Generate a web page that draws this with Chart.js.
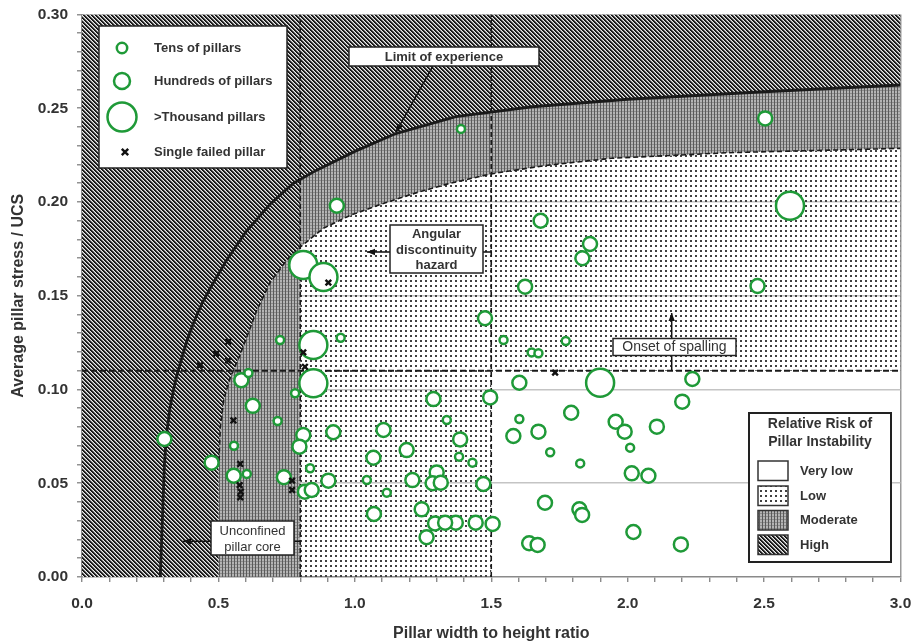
<!DOCTYPE html>
<html>
<head>
<meta charset="utf-8">
<script src="https://cdn.jsdelivr.net/npm/chart.js@4.4.1/dist/chart.umd.min.js"></script>
<style>
html,body{margin:0;padding:0;background:#ffffff;}
#wrap{width:913px;height:644px;}
</style>
</head>
<body>
<div id="wrap"><canvas id="c" width="913" height="644"></canvas></div>
<script>
// ---------------- DATA ----------------
const xTickLabels = ['0.0','0.5','1.0','1.5','2.0','2.5','3.0'];
const yTickLabels = ['0.00','0.05','0.10','0.15','0.20','0.25','0.30'];

// Case histories: width/height ratio, stress/UCS, size class (1 = tens, 2 = hundreds, 3 = >thousand pillars)
const bubbleX = [1.389,2.504,2.595,0.934,0.811,0.885,1.681,1.862,1.834,1.624,2.476,1.477,1.545,1.773,1.648,1.673,
  1.603,1.899,2.237,1.496,2.200,1.793,1.603,1.956,1.989,2.107,1.581,1.673,2.009,1.386,1.382,1.431,1.716,1.826,
  2.015,2.076,1.471,1.697,1.823,1.833,1.370,1.443,1.505,2.021,1.639,1.670,2.195,0.302,0.475,0.556,0.604,0.557,
  0.584,0.610,0.626,0.717,0.726,0.781,0.848,0.848,0.948,0.811,0.797,0.836,0.740,0.817,0.842,0.903,0.921,1.105,
  1.068,1.044,1.117,1.070,1.190,1.211,1.245,1.263,1.288,1.337,1.300,1.285,1.315,1.294,1.331];
const bubbleY = [0.2390,0.2446,0.1980,0.1980,0.1664,0.1600,0.1900,0.1776,0.1700,0.1548,0.1552,0.1380,0.1264,0.1259,0.1198,0.1193,
  0.1036,0.1036,0.1056,0.0958,0.0935,0.0876,0.0843,0.0828,0.0775,0.0802,0.0752,0.0775,0.0690,0.0734,0.0642,0.0610,0.0665,0.0606,
  0.0553,0.0540,0.0496,0.0396,0.0361,0.0331,0.0290,0.0290,0.0283,0.0240,0.0180,0.0171,0.0174,0.0736,0.0610,0.0540,0.0550,0.0700,
  0.1050,0.1088,0.0913,0.0832,0.1264,0.0980,0.1237,0.1033,0.1276,0.0757,0.0695,0.0580,0.0532,0.0455,0.0464,0.0514,0.0772,0.0784,
  0.0636,0.0517,0.0450,0.0336,0.0677,0.0517,0.0361,0.0212,0.0949,0.0837,0.0558,0.0500,0.0503,0.0286,0.0290];
const bubbleClass = [1,2,3,2,3,3,2,2,2,2,2,2,1,1,1,1,
  2,3,2,2,2,2,1,2,2,2,2,2,1,2,1,1,1,1,
  2,2,2,2,2,2,2,2,2,2,2,2,2,2,2,2,1,1,
  2,1,2,1,1,1,3,3,1,2,2,1,2,2,2,2,2,2,
  2,1,1,2,2,2,2,2,2,1,2,2,2,2,2];

// Single failed pillars
const failedX = [0.433,0.491,0.536,0.536,0.555,0.580,0.578,0.582,0.580,0.770,0.770,0.811,0.817,0.903,1.734];
const failedY = [0.1130,0.1190,0.1255,0.1155,0.0835,0.0603,0.0490,0.0455,0.0425,0.0514,0.0464,0.1198,0.1121,0.1570,0.1090];

// Limit of experience (solid curve)
const limitX = [0.287,0.292,0.297,0.302,0.310,0.322,0.340,0.360,0.385,0.410,0.440,0.470,0.530,0.600,0.690,0.775,0.860,1.000,1.150,1.370,1.650,2.000,2.500,3.000];
const limitY = [0.000,0.020,0.040,0.060,0.076,0.090,0.103,0.114,0.126,0.136,0.146,0.154,0.169,0.184,0.199,0.210,0.217,0.227,0.2365,0.2455,0.2508,0.2548,0.2588,0.2624];

// Risk boundary (dashed curve)
const riskX = [0.500,0.502,0.507,0.520,0.545,0.575,0.604,0.640,0.689,0.750,0.800,0.885,0.985,1.100,1.227,1.350,1.500,1.700,1.940,2.370,3.000];
const riskY = [0.000,0.062,0.080,0.095,0.107,0.117,0.128,0.142,0.157,0.169,0.176,0.186,0.193,0.199,0.205,0.210,0.215,0.2195,0.2233,0.2263,0.2286];

const spallingLevel = 0.11;        // onset of spalling
const hazardBounds = [0.8, 1.5];   // angular discontinuity hazard
const coreBound = 0.5;             // unconfined pillar core
const xRange = [0, 3.0];
const yRange = [0, 0.30];

// ---------------- STYLE ----------------
const FONT = '"Liberation Sans", Arial, sans-serif';
const GREEN = '#1f9a38';
const TXT = '#333333';
const canvas = document.getElementById('c');
const mainCtx = canvas.getContext('2d');

function makePattern(w, h, fn) {
  const c = document.createElement('canvas');
  c.width = w; c.height = h;
  const g = c.getContext('2d');
  const img = g.createImageData(w, h);
  for (let yy = 0; yy < h; yy++) {
    for (let xx = 0; xx < w; xx++) {
      const p = fn(xx, yy);
      const i = (yy * w + xx) * 4;
      img.data[i] = p[0]; img.data[i+1] = p[1]; img.data[i+2] = p[2]; img.data[i+3] = p[3];
    }
  }
  g.putImageData(img, 0, 0);
  return mainCtx.createPattern(c, 'repeat');
}
const highPat = makePattern(4, 4, (x, y) => {
  const d = ((x - y) % 4 + 4) % 4;
  const v = [20, 35, 150, 235][d];
  return [v, v, v, 255];
});
const modPat = makePattern(3, 3, (x, y) => {
  let v = 180;
  if (y === 0) v = 140;
  if (x === 0) v = 90;
  return [v, v, v, 255];
});
const lowPat = makePattern(5, 5, (x, y) => (x < 2 && y < 2) ? [65, 65, 65, 255] : [255, 255, 255, 0]);
const lowPatWhite = makePattern(5, 5, (x, y) => (x < 2 && y < 2) ? [65, 65, 65, 255] : [255, 255, 255, 255]);

const radiusFor = {1: 4, 2: 7, 3: 14};

// ---------------- REGIONS (polygons built from the curves) ----------------
function pts(xs, ys) { return xs.map((x, i) => ({x: x, y: ys[i]})); }
const limitPts = pts(limitX, limitY);
const riskPts = pts(riskX, riskY);
const h0 = hazardBounds[0], h1 = hazardBounds[1];
function interp(xs, ys, x) {
  for (let i = 1; i < xs.length; i++) {
    if (x <= xs[i]) { const t = (x - xs[i-1]) / (xs[i] - xs[i-1]); return ys[i-1] + t * (ys[i] - ys[i-1]); }
  }
  return ys[ys.length - 1];
}
const limitAtH0 = interp(limitX, limitY, h0);
const riskAtH0 = interp(riskX, riskY, h0);

// High risk
const highPoly = [{x: xRange[0], y: yRange[0]}, {x: coreBound, y: yRange[0]}]
  .concat(riskPts.filter(p => p.x >= coreBound && p.x < h0))
  .concat([{x: h0, y: riskAtH0}, {x: h0, y: limitAtH0}])
  .concat(limitPts.filter(p => p.x > h0))
  .concat([{x: xRange[1], y: yRange[1]}, {x: xRange[0], y: yRange[1]}]);
// Moderate risk
const modPoly = [{x: coreBound, y: yRange[0]}]
  .concat(riskPts.filter(p => p.x >= coreBound))
  .concat(limitPts.filter(p => p.x > h0).reverse())
  .concat([{x: h0, y: limitAtH0}, {x: h0, y: yRange[0]}]);
// Low risk
const lowPoly = [{x: h0, y: yRange[0]}, {x: h0, y: riskAtH0}]
  .concat(riskPts.filter(p => p.x > h0))
  .concat([{x: xRange[1], y: spallingLevel}, {x: h1, y: spallingLevel}, {x: h1, y: yRange[0]}]);

function regionDs(poly, pat, order) {
  return {type: 'line', data: poly, fill: 'shape', backgroundColor: pat, borderColor: 'rgba(0,0,0,0)',
    borderWidth: 0, pointRadius: 0, tension: 0, order: order};
}
function lineDs(data, width, dash, order) {
  return {type: 'line', data: data, fill: false, borderColor: '#1a1a1a', borderWidth: width, borderDash: dash,
    pointRadius: 0, tension: 0, order: order};
}

const datasets = [
  regionDs(highPoly, highPat, 20),
  regionDs(modPoly, modPat, 21),
  regionDs(lowPoly, lowPat, 22),
  lineDs(limitPts, 2.8, [], 6),
  lineDs(riskPts.slice(1), 1.6, [5, 3], 7),
  lineDs([{x: h0, y: yRange[0]}, {x: h0, y: yRange[1]}], 1.6, [5, 3], 8),
  lineDs([{x: h1, y: yRange[0]}, {x: h1, y: yRange[1]}], 1.6, [5, 3], 8),
  lineDs([{x: xRange[0], y: spallingLevel}, {x: xRange[1], y: spallingLevel}], 1.8, [6, 3], 8),
  {type: 'bubble', data: bubbleX.map((x, i) => ({x: x, y: bubbleY[i], r: radiusFor[bubbleClass[i]]})),
    backgroundColor: '#ffffff', borderColor: GREEN, borderWidth: 2.5, order: 2},
  {type: 'scatter', data: pts(failedX, failedY), pointStyle: 'crossRot', pointRadius: 4,
    borderColor: '#111111', borderWidth: 2.4, backgroundColor: '#111111', order: 1}
];

// ---------------- ANNOTATIONS ----------------
function f(w, s) { return w + ' ' + s + 'px ' + FONT; }
const notes = {
  id: 'notes',
  afterDatasetsDraw(chart) {
    const ctx = chart.ctx;
    ctx.save();
    function box(x0, y0, x1, y1, lw) {
      ctx.fillStyle = '#fff'; ctx.fillRect(x0, y0, x1 - x0, y1 - y0);
      ctx.lineWidth = lw || 1.5; ctx.strokeStyle = '#222'; ctx.setLineDash([]);
      ctx.strokeRect(x0, y0, x1 - x0, y1 - y0);
    }
    function text(t, x, y, font, align) {
      ctx.font = font; ctx.fillStyle = TXT; ctx.textAlign = align || 'center'; ctx.textBaseline = 'middle';
      ctx.fillText(t, x, y);
    }
    function seg(x0, y0, x1, y1, lw) {
      ctx.strokeStyle = '#111'; ctx.lineWidth = lw || 1.5; ctx.setLineDash([]);
      ctx.beginPath(); ctx.moveTo(x0, y0); ctx.lineTo(x1, y1); ctx.stroke();
    }
    function arrow(x0, y0, x1, y1) {
      seg(x0, y0, x1, y1, 1.5);
      const a = Math.atan2(y1 - y0, x1 - x0), L = 8, W = 3.2;
      ctx.fillStyle = '#111'; ctx.beginPath();
      ctx.moveTo(x1, y1);
      ctx.lineTo(x1 - L * Math.cos(a) + W * Math.sin(a), y1 - L * Math.sin(a) - W * Math.cos(a));
      ctx.lineTo(x1 - L * Math.cos(a) - W * Math.sin(a), y1 - L * Math.sin(a) + W * Math.cos(a));
      ctx.closePath(); ctx.fill();
    }
    function circ(x, y, r) {
      ctx.beginPath(); ctx.arc(x, y, r, 0, Math.PI * 2);
      ctx.fillStyle = '#fff'; ctx.fill(); ctx.lineWidth = 2.5; ctx.strokeStyle = GREEN; ctx.stroke();
    }
    function cross(x, y, s) {
      ctx.strokeStyle = '#111'; ctx.lineWidth = 2.4; ctx.setLineDash([]);
      ctx.beginPath(); ctx.moveTo(x - s, y - s); ctx.lineTo(x + s, y + s);
      ctx.moveTo(x + s, y - s); ctx.lineTo(x - s, y + s); ctx.stroke();
    }

    // Symbol legend
    box(99, 26, 287, 168, 1.5);
    circ(122, 48, 5.2); text('Tens of pillars', 154, 48, f('bold', 13), 'left');
    circ(122, 81, 8); text('Hundreds of pillars', 154, 81, f('bold', 13), 'left');
    circ(122, 117, 14.5); text('>Thousand pillars', 154, 117, f('bold', 13), 'left');
    cross(125, 152, 3.2); text('Single failed pillar', 154, 152, f('bold', 13), 'left');

    // Limit of experience
    arrow(433, 66, 396, 132);
    box(349, 47, 539, 66, 1.5);
    text('Limit of experience', 444, 57, f('bold', 13));

    // Angular discontinuity hazard
    arrow(390, 252, 367, 252);
    seg(483, 252, 492, 252, 1.5);
    box(390, 225, 483, 273, 1.5);
    text('Angular', 436.5, 234, f('bold', 13));
    text('discontinuity', 436.5, 250, f('bold', 13));
    text('hazard', 436.5, 265.5, f('bold', 13));

    // Onset of spalling
    arrow(671.7, 371, 671.7, 313);
    box(613, 338.5, 736, 355.5, 1.5);
    text('Onset of spalling', 674.5, 347.5, f('normal', 14));

    // Unconfined pillar core
    arrow(211, 541.3, 183, 541.3);
    seg(294, 541.3, 300, 541.3, 1.5);
    box(211, 521, 294, 555, 1.5);
    text('Unconfined', 252.5, 531.5, f('normal', 13));
    text('pillar core', 252.5, 547, f('normal', 13));

    // Risk legend
    box(749, 413, 891, 562, 2);
    text('Relative Risk of', 820, 424.5, f('bold', 14));
    text('Pillar Instability', 820, 442, f('bold', 14));
    const sw = [['Very low', '#ffffff'], ['Low', lowPatWhite], ['Moderate', modPat], ['High', highPat]];
    const tops = [461, 486, 510.5, 535];
    sw.forEach((s, i) => {
      ctx.fillStyle = s[1]; ctx.fillRect(758, tops[i], 30, 19.5);
      ctx.lineWidth = 1.5; ctx.strokeStyle = '#333'; ctx.strokeRect(758, tops[i], 30, 19.5);
      text(s[0], 800, tops[i] + 10, f('bold', 13), 'left');
    });
    ctx.restore();
  }
};

// ---------------- CHART ----------------
function isMajorY(v) { return yTickLabels.includes(v.toFixed(2)); }
new Chart(canvas, {
  type: 'scatter',
  data: {datasets: datasets},
  plugins: [notes],
  options: {
    responsive: false,
    animation: false,
    events: [],
    devicePixelRatio: 1,
    layout: {autoPadding: false, padding: {top: 14.5, right: 12.5, bottom: 0, left: 0}},
    plugins: {legend: {display: false}, tooltip: {enabled: false}},
    scales: {
      x: {
        type: 'linear', min: xRange[0], max: xRange[1],
        afterFit: s => { s.height = 67; s.paddingRight = 0; s.paddingLeft = 0; },
        ticks: {
          stepSize: 0.1, autoSkip: false, maxRotation: 0, padding: 12,
          color: TXT, font: {family: FONT, size: 15.5, weight: 'bold'},
          callback: v => { const s = Number(v).toFixed(1); return xTickLabels.includes(s) ? s : ''; }
        },
        grid: {
          drawOnChartArea: true, tickLength: 5, tickWidth: 1.2, tickColor: '#777', lineWidth: 1.5,
          color: c => (c.tick && Math.abs(c.tick.value - xRange[1]) < 1e-6) ? '#9a9a9a' : 'rgba(0,0,0,0)'
        },
        border: {display: true, color: '#8a8a8a', width: 1.5},
        title: {display: true, text: 'Pillar width to height ratio', color: TXT,
          font: {family: FONT, size: 16, weight: 'bold'}, padding: {top: 0, bottom: 1}}
      },
      y: {
        type: 'linear', min: yRange[0], max: yRange[1],
        afterFit: s => { s.width = 82; s.paddingTop = 0; s.paddingBottom = 0; },
        ticks: {
          stepSize: 0.01, autoSkip: false, padding: 9,
          color: TXT, font: {family: FONT, size: 15.5, weight: 'bold'},
          callback: v => { const s = Number(v).toFixed(2); return yTickLabels.includes(s) ? s : ''; }
        },
        grid: {
          drawOnChartArea: true, tickLength: 5, tickWidth: 1.2, tickColor: '#777', lineWidth: 1.6,
          color: c => (c.tick && c.tick.value > 0.001 && isMajorY(c.tick.value)) ? '#c4c4c4' : 'rgba(0,0,0,0)'
        },
        border: {display: true, color: '#8a8a8a', width: 1.5},
        title: {display: true, text: 'Average pillar stress / UCS', color: TXT,
          font: {family: FONT, size: 16, weight: 'bold'}, padding: {top: 9, bottom: 0}}
      }
    }
  }
});
</script>
</body>
</html>
